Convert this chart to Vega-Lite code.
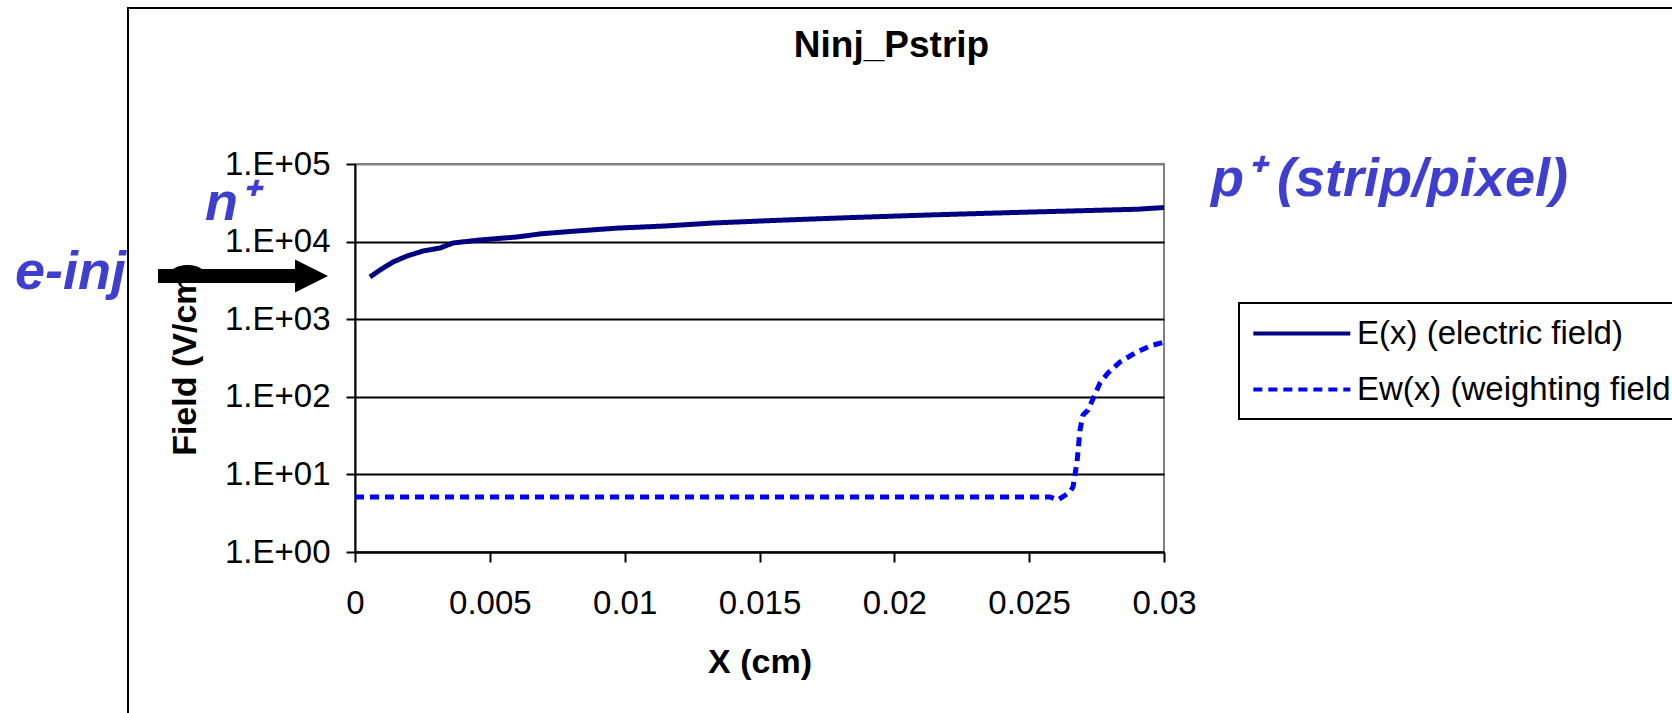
{
  "$schema": "https://vega.github.io/schema/vega-lite/v6.json",
  "autosize": {"type": "none"},
  "width": 809,
  "height": 388,
  "padding": {"left": 355, "top": 164, "right": 508, "bottom": 161},
  "background": "white",
  "title": {
    "text": "Ninj_Pstrip",
    "font": "Liberation Sans",
    "fontSize": 37,
    "fontWeight": "bold",
    "color": "black",
    "frame": "group",
    "anchor": "middle",
    "dx": 132,
    "dy": 87,
    "baseline": "alphabetic",
    "offset": 0
  },
  "datasets": {
    "series": [
      {"x": 0.000556, "y": 3499, "series": "E(x) (electric field)"},
      {"x": 0.000927, "y": 4305, "series": "E(x) (electric field)"},
      {"x": 0.001409, "y": 5458, "series": "E(x) (electric field)"},
      {"x": 0.001928, "y": 6518, "series": "E(x) (electric field)"},
      {"x": 0.002522, "y": 7566, "series": "E(x) (electric field)"},
      {"x": 0.003152, "y": 8270, "series": "E(x) (electric field)"},
      {"x": 0.003634, "y": 9594, "series": "E(x) (electric field)"},
      {"x": 0.004635, "y": 10490, "series": "E(x) (electric field)"},
      {"x": 0.006007, "y": 11470, "series": "E(x) (electric field)"},
      {"x": 0.0069, "y": 12600, "series": "E(x) (electric field)"},
      {"x": 0.0081, "y": 13600, "series": "E(x) (electric field)"},
      {"x": 0.0097, "y": 14900, "series": "E(x) (electric field)"},
      {"x": 0.011496, "y": 15890, "series": "E(x) (electric field)"},
      {"x": 0.013276, "y": 17370, "series": "E(x) (electric field)"},
      {"x": 0.015686, "y": 18820, "series": "E(x) (electric field)"},
      {"x": 0.018245, "y": 20320, "series": "E(x) (electric field)"},
      {"x": 0.021249, "y": 22020, "series": "E(x) (electric field)"},
      {"x": 0.024846, "y": 23930, "series": "E(x) (electric field)"},
      {"x": 0.029036, "y": 26150, "series": "E(x) (electric field)"},
      {"x": 0.03, "y": 27500, "series": "E(x) (electric field)"},
      {"x": 0.0, "y": 5.12, "series": "Ew(x) (weighting field)"},
      {"x": 0.005, "y": 5.12, "series": "Ew(x) (weighting field)"},
      {"x": 0.01, "y": 5.12, "series": "Ew(x) (weighting field)"},
      {"x": 0.015, "y": 5.12, "series": "Ew(x) (weighting field)"},
      {"x": 0.02, "y": 5.12, "series": "Ew(x) (weighting field)"},
      {"x": 0.025773, "y": 5.12, "series": "Ew(x) (weighting field)"},
      {"x": 0.02607, "y": 4.68, "series": "Ew(x) (weighting field)"},
      {"x": 0.026514, "y": 5.93, "series": "Ew(x) (weighting field)"},
      {"x": 0.026626, "y": 6.89, "series": "Ew(x) (weighting field)"},
      {"x": 0.026774, "y": 14.4, "series": "Ew(x) (weighting field)"},
      {"x": 0.026885, "y": 37.3, "series": "Ew(x) (weighting field)"},
      {"x": 0.026997, "y": 58.3, "series": "Ew(x) (weighting field)"},
      {"x": 0.027182, "y": 67.6, "series": "Ew(x) (weighting field)"},
      {"x": 0.027627, "y": 150.6, "series": "Ew(x) (weighting field)"},
      {"x": 0.027924, "y": 202.8, "series": "Ew(x) (weighting field)"},
      {"x": 0.028368, "y": 280.8, "series": "Ew(x) (weighting field)"},
      {"x": 0.028925, "y": 366.8, "series": "Ew(x) (weighting field)"},
      {"x": 0.029481, "y": 451.6, "series": "Ew(x) (weighting field)"},
      {"x": 0.03, "y": 508, "series": "Ew(x) (weighting field)"}
    ],
    "annot": [
      {"x": -0.012608, "y": 2449, "label": "e-inj"},
      {"x": -0.005562, "y": 18980, "label": "n⁺"},
      {"x": 0.031743, "y": 38690, "label": "p⁺ (strip/pixel)"}
    ],
    "shaft": [{"x": -0.007305, "x2": -0.002151, "y": 3606}],
    "head": [{"x": -0.001613, "y": 3606}],
    "frame": [{"x": -0.008418, "x2": 0.06, "y": 10240000, "y2": 0.001}]
  },
  "encoding": {
    "x": {
      "field": "x",
      "type": "quantitative",
      "scale": {"domain": [0, 0.03], "nice": false, "zero": false},
      "axis": {
        "title": "X (cm)",
        "values": [0, 0.005, 0.01, 0.015, 0.02, 0.025, 0.03],
        "format": "~g",
        "grid": false,
        "labelFlush": false,
        "labelOverlap": false,
        "labelFontSize": 33,
        "labelPadding": 25,
        "tickSize": 10,
        "titleFontSize": 34,
        "titleFontWeight": "bold",
        "titleBaseline": "alphabetic",
        "titleY": 120,
        "titleX": 404.5
      }
    },
    "y": {
      "field": "y",
      "type": "quantitative",
      "scale": {"type": "log", "domain": [1, 100000], "nice": false},
      "axis": {
        "title": "Field (V/cm)",
        "values": [1, 10, 100, 1000, 10000, 100000],
        "labelExpr": "'1.E+0' + round(log(datum.value)/LN10)",
        "grid": true,
        "gridColor": {"condition": {"test": "datum.value == 100000", "value": "#808080"}, "value": "black"},
        "gridWidth": 2,
        "labelFlush": false,
        "labelOverlap": false,
        "labelFontSize": 33,
        "labelPadding": 16,
        "tickSize": 9,
        "titleFontSize": 34,
        "titleFontWeight": "bold",
        "titleBaseline": "alphabetic",
        "titleAlign": "center",
        "titleAngle": 270,
        "titleX": -160,
        "titleY": 195
      }
    }
  },
  "layer": [
    {
      "data": {"name": "frame"},
      "mark": {"type": "rect", "filled": false, "stroke": "black", "strokeWidth": 2, "clip": false},
      "encoding": {"x2": {"field": "x2"}, "y2": {"field": "y2"}}
    },
    {
      "data": {"name": "series"},
      "mark": {"type": "line", "strokeWidth": 5, "clip": false},
      "encoding": {
        "color": {
          "field": "series",
          "type": "nominal",
          "scale": {"domain": ["E(x) (electric field)", "Ew(x) (weighting field)"], "range": ["#000080", "#0000FF"]},
          "legend": {
            "orient": "none", "legendX": 884, "legendY": 139, "title": null,
            "labelExpr": "datum.label == 'Ew(x) (weighting field)' ? 'Ew(x) (weighting field' : datum.label"
          }
        },
        "strokeDash": {
          "field": "series",
          "type": "nominal",
          "scale": {"domain": ["E(x) (electric field)", "Ew(x) (weighting field)"], "range": [[1, 0], [9, 6]]},
          "legend": {
            "orient": "none", "legendX": 884, "legendY": 139, "title": null,
            "labelExpr": "datum.label == 'Ew(x) (weighting field)' ? 'Ew(x) (weighting field' : datum.label"
          }
        }
      }
    },
    {
      "data": {"name": "shaft"},
      "mark": {"type": "rule", "color": "black", "strokeWidth": 14, "clip": false},
      "encoding": {"x2": {"field": "x2"}}
    },
    {
      "data": {"name": "head"},
      "mark": {"type": "point", "shape": "M -1,-1 L 1,0 L -1,1 Z", "filled": true, "color": "black", "opacity": 1, "size": 1089, "clip": false},
      "encoding": {}
    },
    {
      "data": {"name": "annot"},
      "mark": {"type": "text", "align": "left", "baseline": "alphabetic", "font": "Liberation Sans", "fontSize": 54, "fontWeight": "bold", "fontStyle": "italic", "color": "#3F3FCF", "clip": false},
      "encoding": {"text": {"field": "label"}}
    }
  ],
  "config": {
    "font": "Liberation Sans",
    "view": {"stroke": "#808080", "strokeWidth": 2},
    "axis": {
      "labelFont": "Liberation Sans",
      "titleFont": "Liberation Sans",
      "labelColor": "black",
      "titleColor": "black",
      "domainColor": "black",
      "domainWidth": 2,
      "tickColor": "black",
      "tickWidth": 2
    },
    "legend": {
      "labelFont": "Liberation Sans",
      "labelFontSize": 33,
      "labelColor": "black",
      "labelLimit": 600,
      "labelOffset": 69,
      "symbolType": "M -1,0 L 5,0",
      "symbolSize": 1045,
      "symbolStrokeWidth": 4,
      "symbolFillColor": "transparent",
      "rowPadding": 20,
      "padding": 12,
      "strokeColor": "black",
      "strokeWidth": 2,
      "fillColor": "white"
    }
  }
}
